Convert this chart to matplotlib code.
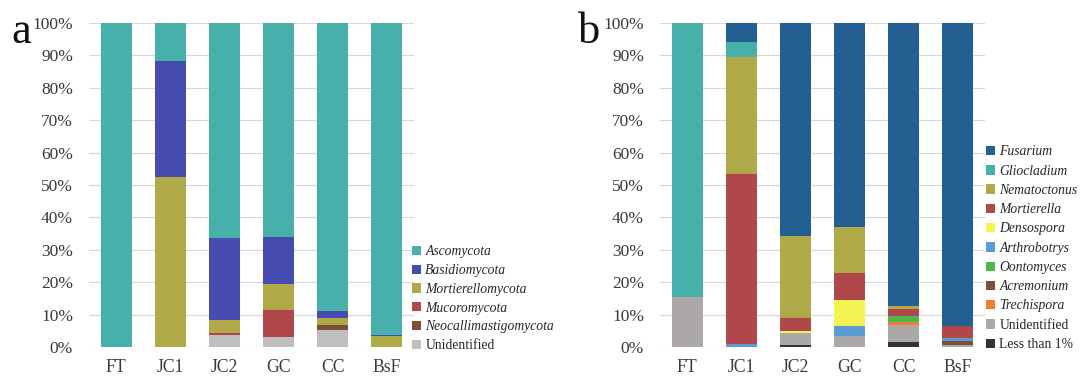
import matplotlib

matplotlib.use("Agg")
import matplotlib.pyplot as plt
from matplotlib.patches import Patch
import numpy as np

plt.rcParams["font.family"] = ["Liberation Serif", "DejaVu Serif"]

groups = ["FT", "JC1", "JC2", "GC", "CC", "BsF"]

# panel a: phyla, listed bottom to top of the stack
phyla = ["Unidentified", "Neocallimastigomycota", "Mucoromycota",
         "Mortierellomycota", "Basidiomycota", "Ascomycota"]
unidentified_a = [0, 0, 3.7, 3.2, 5.2, 0]
neocallimastigomycota = [0, 0, 0, 0, 1.6, 0]
mucoromycota = [0, 0, 0.7, 8.2, 0, 0]
mortierellomycota = [0, 52.6, 3.9, 8.1, 2.3, 3.4]
basidiomycota = [0, 35.7, 25.3, 14.6, 2.1, 0.4]
ascomycota = [100, 11.7, 66.4, 65.9, 88.8, 96.2]

# panel b: genera, bottom to top
genera = ["Less than 1%", "Unidentified", "Trechispora", "Acremonium",
          "Oontomyces", "Arthrobotrys", "Densospora", "Mortierella",
          "Nematoctonus", "Gliocladium", "Fusarium"]
less_than_1 = [0, 0, 0.6, 0, 1.5, 0]
unidentified_b = [15.5, 0, 3.8, 3.3, 5.2, 0.5]
trechispora = [0, 0, 0, 0, 1.0, 0]
acremonium = [0, 0, 0, 0, 0, 1.3]
oontomyces = [0, 0, 0, 0, 1.8, 0]
arthrobotrys = [0, 0.8, 0, 3.1, 0, 1.0]
densospora = [0, 0, 0.4, 8.0, 0, 0]
mortierella = [0, 52.7, 4.1, 8.3, 2.3, 3.8]
nematoctonus = [0, 35.9, 25.3, 14.2, 0.9, 0]
gliocladium = [84.5, 4.6, 0, 0, 0, 0]
fusarium = [0, 6.0, 65.8, 63.1, 87.3, 93.4]

colors_a = ["#bfbfbf", "#7a5136", "#b0474b", "#afa947", "#464baf", "#48b0aa"]
colors_b = ["#333333", "#ada8a8", "#f07f33", "#7a5136", "#4cb84c", "#5b9bd5",
            "#f4f455", "#b0474b", "#afa947", "#48b0aa", "#245f91"]

W, H = 1088, 376
fig = plt.figure(figsize=(W / 100, H / 100), dpi=100)


def stacked(ax, series, names, colors):
    x = np.arange(len(groups))
    bottom = np.zeros(len(groups))
    for vals, c in zip(series, colors):
        vals = np.asarray(vals, dtype=float)
        ax.bar(x, vals, 0.57, bottom=bottom, color=c, linewidth=0, zorder=3)
        bottom += vals
    ax.set_xlim(-0.5, len(groups) - 0.5)
    ax.set_ylim(0, 100)
    ax.set_yticks(np.arange(0, 101, 10))
    ax.set_yticklabels([f"{v}%" for v in range(0, 101, 10)])
    ax.set_xticks(x)
    ax.set_xticklabels(groups)
    ax.tick_params(axis="y", length=0, pad=11.5, labelsize=12.5, colors="#3a3a3a")
    ax.tick_params(axis="x", length=0, pad=9, labelsize=12.7, colors="#3a3a3a")
    ax.grid(axis="y", color="#d9d9d9", linewidth=0.9, zorder=0)
    for s in ax.spines.values():
        s.set_visible(False)
    handles = [Patch(facecolor=c, edgecolor="none") for c in colors][::-1]
    return handles, names[::-1]


def legend(ax, handles, labels, x_px, y_px, spacing):
    leg = ax.legend(handles, labels, loc="lower left",
                    bbox_to_anchor=(x_px / W, 1 - y_px / H),
                    bbox_transform=fig.transFigure, frameon=False,
                    fontsize=9.8, handlelength=0.68, handleheight=0.68,
                    handletextpad=0.3, labelspacing=spacing, borderpad=0,
                    borderaxespad=0)
    for t in leg.get_texts():
        t.set_color("#262626")
        if t.get_text() not in ("Unidentified", "Less than 1%"):
            t.set_fontstyle("italic")


ax1 = fig.add_axes([89 / W, 29 / H, 325 / W, 324 / H])
h, l = stacked(ax1, [unidentified_a, neocallimastigomycota, mucoromycota,
                     mortierellomycota, basidiomycota, ascomycota],
               phyla, colors_a)
legend(ax1, h, l, 412, 352, 0.42)

ax2 = fig.add_axes([660 / W, 29 / H, 325 / W, 324 / H])
h, l = stacked(ax2, [less_than_1, unidentified_b, trechispora, acremonium,
                     oontomyces, arthrobotrys, densospora, mortierella,
                     nematoctonus, gliocladium, fusarium],
               genera, colors_b)
legend(ax2, h, l, 986, 351, 0.46)

fig.text(11 / W, 1 - 43 / H, "a", fontsize=32, color="#111111")
fig.text(578 / W, 1 - 43 / H, "b", fontsize=32, color="#111111")

fig.savefig("out.png", dpi=100)
